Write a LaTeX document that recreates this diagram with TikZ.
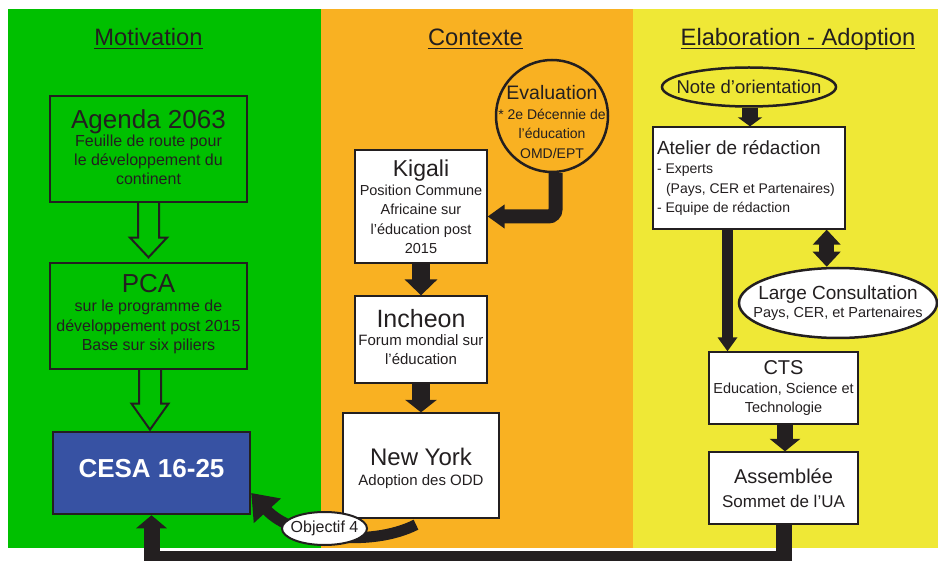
\documentclass[tikz,border=0pt]{standalone}
\usepackage{fontspec}
\setmainfont{Liberation Sans}
\usetikzlibrary{arrows.meta,shapes.geometric,calc}
\definecolor{gr}{RGB}{0,192,0}
\definecolor{og}{RGB}{249,177,34}
\definecolor{ye}{RGB}{239,232,54}
\definecolor{bl}{RGB}{55,82,163}
\definecolor{dk}{RGB}{35,31,32}
\newcommand{\fsz}[2]{\fontsize{#1}{#2}\selectfont\spaceskip=\fontdimen2\font\relax\xspaceskip=\fontdimen2\font\relax}
\setlength{\parindent}{0pt}
\begin{document}
\begin{tikzpicture}[x=1pt,y=-1pt,
  title/.style={inner sep=0pt, anchor=base, font=\fsz{23.7}{28}, text=dk},
  uline/.style={draw=dk, line width=1.3pt},
  box/.style={draw=dk, line width=1.3pt, fill=white, inner xsep=0pt, inner ysep=0pt, align=center, text=dk},
  hollow/.style={draw=dk, line width=2pt, fill=none, line join=miter},
  solid/.style={draw=dk, line join=miter}
]
\useasboundingbox (0,0) rectangle (938,561);
% panels
\fill[gr] (8,9) rectangle (321,548);
\fill[og] (321,9) rectangle (633,548);
\fill[ye] (633,9) rectangle (938,548);

% titles
\node[title] (t1) at (148.5,45.5) {Motivation};
\node[title] (t2) at (475.5,45.5) {Contexte};
\node[title] (t3) at (798,45.5) {Elaboration - Adoption};
\foreach \t in {t1,t2,t3}
  \draw[uline] ([yshift=-3pt]\t.base west) -- ([yshift=-3pt]\t.base east);

% Motivation column
\node[box, fill=none, minimum width=197pt, minimum height=106pt, text width=195pt] (ag) at (148.5,149)
  {{\fsz{26}{28}Agenda 2063\par}\fsz{16}{18.8}Feuille de route pour\\le développement du\\continent\par\vspace*{4pt}};
\node[box, fill=none, minimum width=197pt, minimum height=106pt, text width=195pt] (pca) at (148.5,316)
  {{\fsz{26}{28}PCA\par}\fsz{16}{19.5}sur le programme de\\développement post 2015\\Base sur six piliers\par\vspace*{4pt}};
\node[box, fill=bl, line width=2.5pt, minimum width=197pt, minimum height=82pt, text=white,
  font=\bfseries\fsz{26}{28}, text depth=9pt] (cesa) at (151.5,473) {CESA 16-25};

\draw[hollow] ($(ag.south)+(-10.5,0)$) -- ($(ag.south)+(-10.5,35)$) -- ($(ag.south)+(-18.5,35)$)
  -- ($(pca.north)+(0,-5)$) -- ($(ag.south)+(18.5,35)$) -- ($(ag.south)+(10.5,35)$)
  -- ($(ag.south)+(10.5,0)$);
\draw[hollow] ($(pca.south)+(-9.5,0)$) -- ($(pca.south)+(-9.5,34)$) -- ($(pca.south)+(-17,34)$)
  -- ($(pca.south)+(1.5,60)$) -- ($(pca.south)+(20,34)$) -- ($(pca.south)+(12.5,34)$)
  -- ($(pca.south)+(12.5,0)$);

% Contexte column
\node[box, minimum width=132pt, minimum height=113pt, text width=130pt] (kig) at (421,206.5)
  {{\fsz{23}{25}Kigali\par}\fsz{14.5}{19.3}Position Commune\\Africaine sur\\l’éducation post\\2015\par};
\node[box, minimum width=132pt, minimum height=87pt, text width=130pt] (inc) at (421,339.5)
  {{\fsz{25}{27}Incheon\par}\fsz{15}{18.5}Forum mondial sur\\l’éducation\par\vspace*{5pt}};
\node[box, minimum width=156pt, minimum height=105pt, text width=150pt] (ny) at (421,465.5)
  {{\fsz{24}{26}\rule{0pt}{23pt}New York\par}\fsz{15}{20}Adoption des ODD\par};
\node[circle, draw=dk, line width=2.5pt, minimum size=112pt, inner sep=-16pt, text width=120pt,
  align=center, text=dk] (ev) at (552,116)
  {{\fsz{19.5}{22}\rule{0pt}{26pt}Evaluation\par}\fsz{14}{19.5}* 2e Décennie de\\l’éducation\\* OMD/EPT\par};

\draw[solid, line width=14pt, rounded corners=7pt, -{Triangle[width=23pt,length=17pt]}]
  ([xshift=3.5pt]ev.south) |- ([yshift=-10pt]kig.east);
\draw[solid, line width=18pt, -{Triangle[width=32pt,length=16pt]}] (kig.south) -- (inc.north);
\draw[solid, line width=18pt, -{Triangle[width=31pt,length=12.5pt]}] (inc.south) -- (ny.north);

% Elaboration column
\node[ellipse, draw=dk, line width=2.5pt, minimum width=174pt, minimum height=39pt,
  inner xsep=-30pt, inner ysep=-8pt, font=\fsz{18.5}{22}, text=dk] (no) at (749,87) {Note d’orientation};
\node[box, align=left, text width=184pt, inner xsep=4pt, minimum width=192pt, minimum height=102pt] (at) at (749,178)
  {{\fsz{19}{22}Atelier de rédaction\par}\fsz{14}{19.5}- Experts\\\hspace*{9pt}(Pays, CER et Partenaires)\\- Equipe de rédaction\par};
\node[ellipse, draw=dk, line width=2.5pt, fill=white, minimum width=198pt, minimum height=70pt,
  inner xsep=-45pt, inner ysep=-22pt, text width=178pt, align=center, text=dk] (lc) at (838,303)
  {{\fsz{19}{22}Large Consultation\par}\fsz{14.5}{18}Pays, CER, et Partenaires\par};
\node[box, minimum width=149pt, minimum height=72pt, text width=147pt] (cts) at (783.5,388)
  {{\fsz{20}{22}CTS\par}\fsz{14.5}{19}Education, Science et\\Technologie\par};
\node[box, minimum width=149pt, minimum height=72pt, text width=147pt] (as) at (783.5,488)
  {{\fsz{20}{22}Assemblée\par}\fsz{17}{23.5}Sommet de l’UA\par};

\draw[solid, line width=16pt, -{Triangle[width=24pt,length=9pt]}] ([xshift=1pt]no.south) -- ([xshift=1pt]at.north);
\draw[solid, line width=11pt, -{Triangle[width=19pt,length=14pt]}] ([xshift=-21.5pt]at.south) -- ([xshift=-21.5pt]at.south |- cts.north);
\draw[solid, line width=15pt, {Triangle[width=27pt,length=15pt]}-{Triangle[width=27pt,length=15pt]}]
  ([xshift=77.7pt]at.south) -- ([xshift=77.7pt]at.south |- lc.north);
\draw[solid, line width=16pt, -{Triangle[width=30pt,length=12.5pt]}] ([xshift=1.5pt]cts.south) -- ([xshift=1.5pt]as.north);

% bottom return arrow
\draw[solid, line width=16pt, -{Triangle[width=30pt,length=13pt]}] (as.south) -- ++(0,34) -| (cesa.south);

% Objectif 4 arrow
\draw[solid, line width=11pt, -{Triangle[width=35pt,length=24pt]}]
  ([shift={(-5pt,-6pt)}]ny.south) .. controls (370,548) and (292,538) .. ([yshift=-20pt]cesa.east);
\node[ellipse, draw=dk, line width=2pt, fill=white, minimum width=85pt, minimum height=33pt,
  inner xsep=-20pt, inner ysep=-8pt, font=\fsz{16}{18}, text=dk] (obj) at (324.5,528.5) {Objectif 4};
\end{tikzpicture}
\end{document}
